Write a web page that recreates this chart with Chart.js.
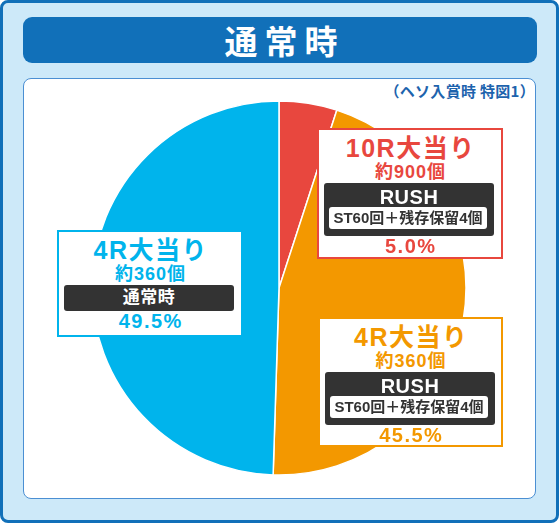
<!DOCTYPE html>
<html lang="ja">
<head>
<meta charset="utf-8">
<script src="https://cdn.jsdelivr.net/npm/chart.js@4.4.1/dist/chart.umd.min.js"></script>
<style>
  html, body { margin: 0; padding: 0; background: #fff; }
  body { width: 560px; height: 523px; position: relative; overflow: hidden;
         font-family: "Noto Sans CJK JP", "Noto Sans", sans-serif; font-weight: 700; }
  .abs { position: absolute; box-sizing: border-box; }
  #frame { left: 0; top: 0; width: 559px; height: 523px; border: 3px solid #1170b9;
           border-radius: 8px; background: #cde9f9; }
  #titlebar { left: 23px; top: 17px; width: 514px; height: 46px; background: #1170b9;
              border-radius: 9px; color: #fff; font-size: 33px; line-height: 46px;
              text-align: center; letter-spacing: 7px; padding-left: 9px; }
  #panel { left: 23px; top: 78px; width: 513px; height: 421px; background: #fff;
           border: 1px solid #4b8fd3; border-radius: 8px; }
  #note { right: 25px; top: 80px; height: 22px; line-height: 22px; font-size: 15px;
          color: #1d63ad; letter-spacing: 0.3px; }
  #pie { left: 79px; top: 88px; }
  .box { background: #fff; border: 2px solid; }
  .line { position: absolute; left: 0; width: 100%; text-align: center; white-space: nowrap;
          font-family: "Liberation Sans", "Noto Sans CJK JP", sans-serif; font-weight: 700; }
  .mode { position: absolute; background: #333; border-radius: 3px; }
  .detail { position: absolute; background: #fff; border-radius: 3px; color: #333;
            font-family: "Liberation Sans", "Noto Sans CJK JP", sans-serif;
            font-size: 15px; line-height: 22px; text-align: center; white-space: nowrap;
            font-weight: 700; }
</style>
</head>
<body>
<div id="frame" class="abs"></div>
<div id="titlebar" class="abs">通常時</div>
<div id="panel" class="abs"></div>
<div id="note" class="abs">（ヘソ入賞時 特図1）</div>
<canvas id="pie" class="abs" width="400" height="400"></canvas>

<script>
// 当り種別ごとのデータ
const categories = ['10R大当り', '4R大当り', '4R大当り'];
const payouts = ['約900個', '約360個', '約360個'];
const modes = ['RUSH', 'RUSH', '通常時'];
const modeDetails = ['ST60回＋残存保留4個', 'ST60回＋残存保留4個', ''];
const shares = [5.0, 45.5, 49.5];
const sliceColors = ['#e8473e', '#f39800', '#00b4ec'];

// ラベル枠の位置
const boxPos = [
  { x: 317, y: 128, w: 186, h: 131 },
  { x: 318, y: 317, w: 185, h: 130 },
  { x: 57, y: 230, w: 186, h: 107 },
];

new Chart(document.getElementById('pie'), {
  type: 'pie',
  data: {
    labels: categories,
    datasets: [{
      data: shares,
      backgroundColor: sliceColors,
      borderColor: '#fff',
      borderWidth: 1.5,
    }],
  },
  options: {
    responsive: false,
    animation: false,
    radius: 187,
    plugins: { legend: { display: false }, tooltip: { enabled: false } },
  },
});

// ラベル枠を作る
categories.forEach((cat, i) => {
  const p = boxPos[i];
  const color = sliceColors[i];
  const box = document.createElement('div');
  box.className = 'abs box';
  Object.assign(box.style, {
    left: p.x + 'px', top: p.y + 'px', width: p.w + 'px', height: p.h + 'px', borderColor: color,
  });

  const addLine = (text, cy, size, col, ls) => {
    const el = document.createElement('div');
    el.className = 'line';
    el.textContent = text;
    Object.assign(el.style, {
      top: (cy - 2 - 15) + 'px', height: '30px', lineHeight: '30px', fontSize: size + 'px',
      color: col, letterSpacing: (ls || 0) + 'px', paddingLeft: (ls || 0) + 'px',
      boxSizing: 'border-box',
    });
    box.appendChild(el);
  };

  addLine(cat, 20, 25, color, 1.5);
  addLine(payouts[i], 44, 18, color, 1);

  const hasDetail = modeDetails[i] !== '';
  const mode = document.createElement('div');
  mode.className = 'mode';
  Object.assign(mode.style, {
    left: '5px', top: '53px', width: '170px', height: (hasDetail ? 53 : 26) + 'px',
  });
  const modeText = document.createElement('div');
  modeText.className = 'line';
  modeText.textContent = modes[i];
  Object.assign(modeText.style, {
    top: hasDetail ? '1px' : '0px', height: '26px', lineHeight: '26px',
    fontSize: (hasDetail ? 20 : 17) + 'px', color: '#fff', letterSpacing: '0.5px',
  });
  mode.appendChild(modeText);
  if (hasDetail) {
    const det = document.createElement('div');
    det.className = 'detail';
    det.textContent = modeDetails[i];
    Object.assign(det.style, { left: '5px', top: '24px', width: '158px', height: '22px' });
    mode.appendChild(det);
  }
  box.appendChild(mode);

  addLine(shares[i].toFixed(1) + '%', hasDetail ? 118 : 91, 20, color, 1.5);
  document.body.appendChild(box);
});
</script>
</body>
</html>
